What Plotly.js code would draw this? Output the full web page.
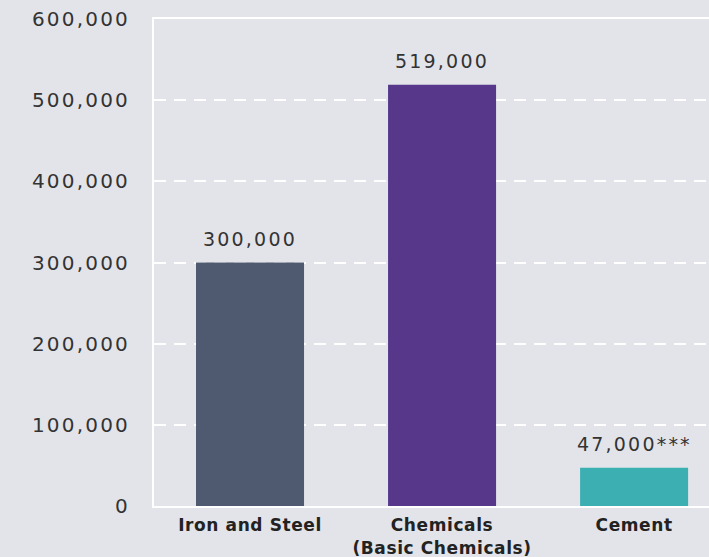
<!DOCTYPE html>
<html>
<head>
<meta charset="utf-8">
<script src="https://cdn.plot.ly/plotly-3.0.1.min.js"></script>
<style>
  html, body { margin: 0; padding: 0; background: #e3e4e9; }
  #chart { width: 709px; height: 557px; }
  .ytick text, .annotation-text { letter-spacing: 2.2px; }
  .xtick text { letter-spacing: 0.6px; }
</style>
</head>
<body>
<div id="chart"></div>
<script>
const categories = ["Iron and Steel", "Chemicals<br>(Basic Chemicals)", "Cement"];
const values = [300000, 519000, 47000];
const valueLabels = ["300,000", "519,000", "47,000***"];
const barColors = ["#4f5a70", "#56378a", "#3bafb2"];
const yTicks = [0, 100000, 200000, 300000, 400000, 500000, 600000];

const trace = {
  type: "bar",
  x: categories,
  y: values,
  marker: { color: barColors, line: { width: 0 } },
  hoverinfo: "none"
};

const annotations = categories.map((c, i) => ({
  x: c, y: values[i], xref: "x", yref: "y",
  text: valueLabels[i], showarrow: false,
  yanchor: "bottom", yshift: 11,
  font: { family: "DejaVu Sans", size: 19, color: "#333333" }
}));

const layout = {
  width: 709, height: 557,
  paper_bgcolor: "#e3e4e9", plot_bgcolor: "#e3e4e9",
  margin: { l: 154, r: 0, t: 19, b: 51 },
  bargap: 0.4375,
  showlegend: false,
  xaxis: {
    type: "category",
    range: [-0.5, 2.39],
    showgrid: false, zeroline: false,
    showline: true, linecolor: "#ffffff", linewidth: 2, mirror: true,
    ticks: "", ticklabelstandoff: 3,
    tickfont: { family: "DejaVu Sans", size: 17, color: "#222222", weight: "bold" }
  },
  yaxis: {
    range: [0, 600000],
    tickvals: yTicks,
    tickformat: ",d",
    showgrid: true, gridcolor: "#ffffff", gridwidth: 2, griddash: "12px,8px",
    zeroline: false,
    showline: true, linecolor: "#ffffff", linewidth: 2,
    ticks: "", ticklabelstandoff: 18,
    tickfont: { family: "DejaVu Sans", size: 20, color: "#333333" }
  },
  annotations: annotations
};

Plotly.newPlot("chart", [trace], layout, { staticPlot: true, displayModeBar: false });
</script>
</body>
</html>
